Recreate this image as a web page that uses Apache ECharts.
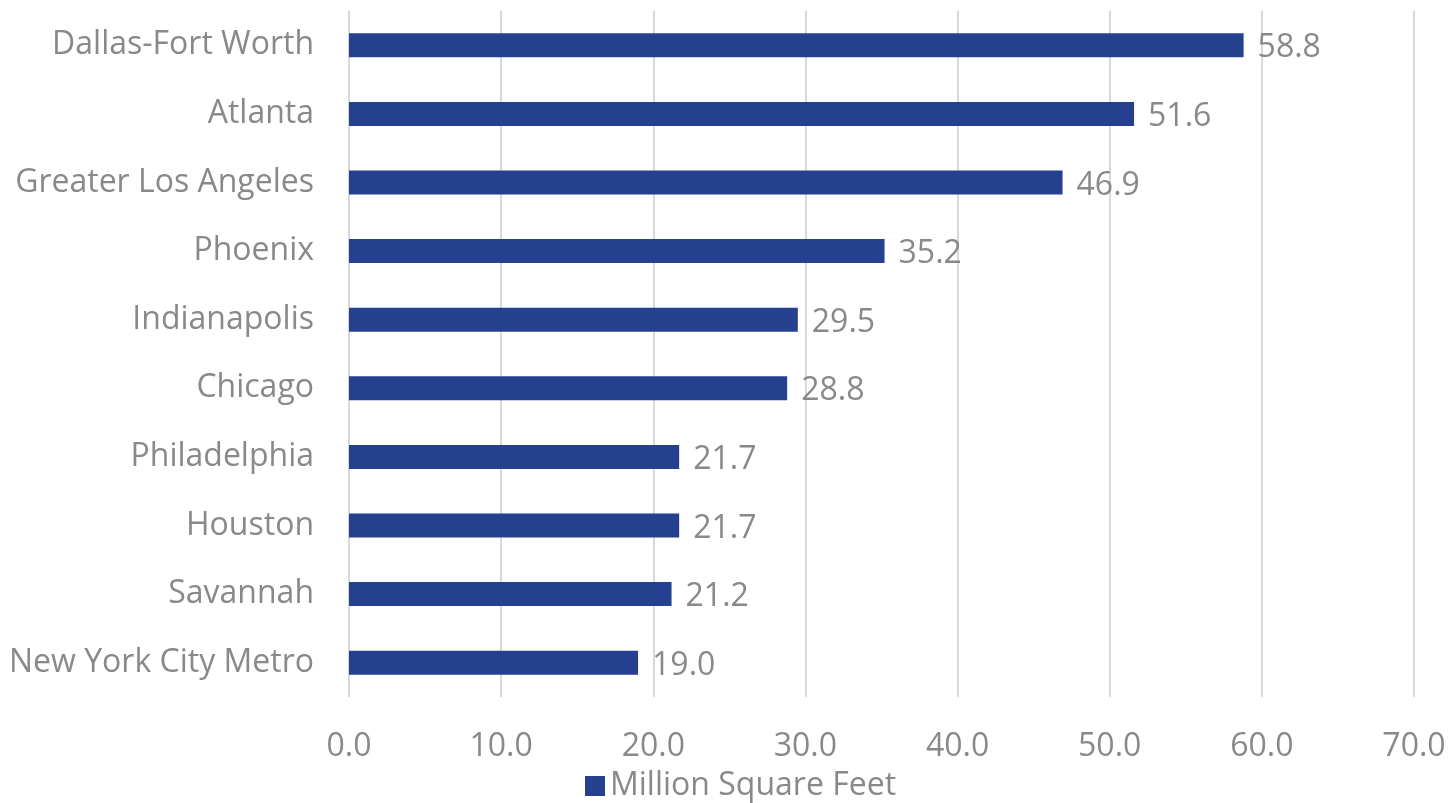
<!DOCTYPE html>
<html>
<head>
<meta charset="utf-8">
<script src="https://cdn.jsdelivr.net/npm/echarts@6/dist/echarts.min.js"></script>
<style>
  html, body { margin: 0; padding: 0; background: #fff; }
  #chart { width: 1451px; height: 803px; }
</style>
</head>
<body>
<div id="chart"></div>
<script>
// Markets, listed bottom to top as the category axis draws them
const markets = [
  'New York City Metro', 'Savannah', 'Houston', 'Philadelphia', 'Chicago',
  'Indianapolis', 'Phoenix', 'Greater Los Angeles', 'Atlanta', 'Dallas-Fort Worth'
];
const squareFeet = [19.0, 21.2, 21.7, 21.7, 28.8, 29.5, 35.2, 46.9, 51.6, 58.8];
const seriesName = 'Million Square Feet';

const textColor = '#898989';
const barColor = '#25408f';
const font = '"Open Sans", sans-serif';
const fontSize = 32;

const chart = echarts.init(document.getElementById('chart'));
chart.setOption({
  animation: false,
  textStyle: { fontFamily: font },
  grid: { left: 349, right: 37, top: 11, bottom: 106, containLabel: false },
  legend: {
    bottom: -4,
    left: 580,
    itemWidth: 20,
    itemHeight: 20,
    itemGap: 10,
    icon: 'rect',
    textStyle: { color: textColor, fontSize: fontSize, fontFamily: font },
    data: [seriesName]
  },
  xAxis: {
    type: 'value',
    min: 0,
    max: 70,
    interval: 10,
    axisLine: { show: false },
    axisTick: { show: false },
    splitLine: { show: true, lineStyle: { color: '#d9d9d9', width: 2 } },
    axisLabel: {
      color: textColor,
      fontSize: fontSize,
      margin: 34,
      fontFamily: font,
      formatter: v => v.toFixed(1)
    }
  },
  yAxis: {
    type: 'category',
    data: markets,
    axisLine: { show: false },
    axisTick: { show: false },
    axisLabel: {
      color: textColor,
      fontSize: fontSize,
      margin: 35,
      fontFamily: font,
      padding: [6, 0, 0, 0]
    }
  },
  series: [{
    name: seriesName,
    type: 'bar',
    data: squareFeet,
    barWidth: 24,
    itemStyle: { color: barColor },
    label: {
      show: true,
      position: 'right',
      distance: 14,
      color: textColor,
      fontSize: fontSize,
      fontFamily: font,
      offset: [0, 3],
      formatter: p => p.value.toFixed(1)
    }
  }]
});
</script>
</body>
</html>
